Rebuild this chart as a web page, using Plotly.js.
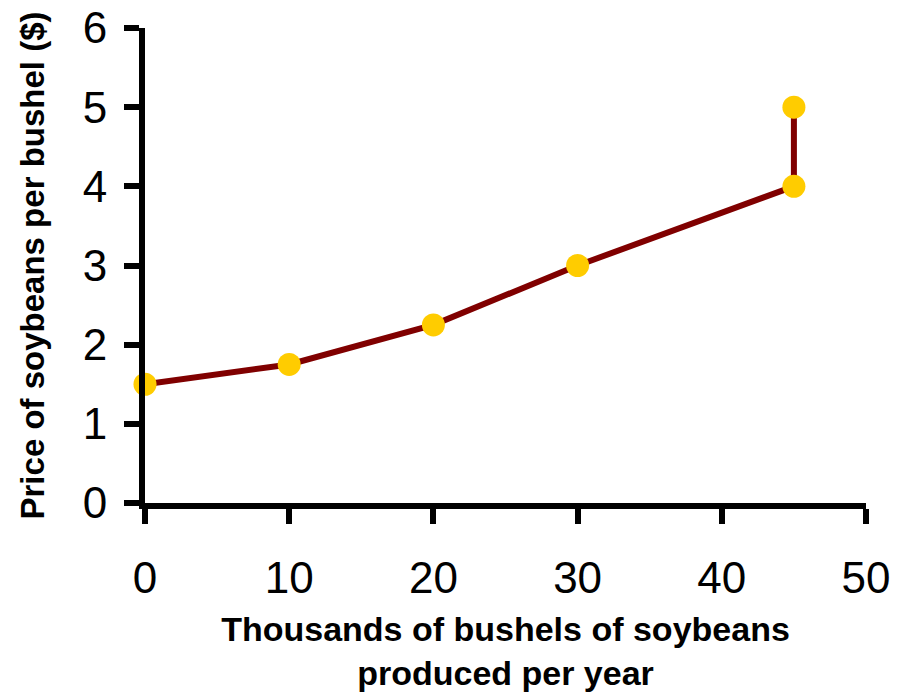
<!DOCTYPE html>
<html>
<head>
<meta charset="utf-8">
<script src="https://cdn.plot.ly/plotly-3.0.1.min.js"></script>
<style>html,body{margin:0;padding:0;background:#fff;}#chart{width:899px;height:693px;}</style>
</head>
<body>
<div id="chart"></div>
<script>
const quantity = [0, 10, 20, 30, 45, 45];
const price = [1.5, 1.75, 2.25, 3, 4, 5];
const xTicks = [0, 10, 20, 30, 40, 50];
const yTicks = [0, 1, 2, 3, 4, 5, 6];
const xTitle = "Thousands of bushels of soybeans<br>produced per year";
const yTitle = "Price of soybeans per bushel ($)";

const trace = {
  x: quantity, y: price, type: 'scatter', mode: 'lines+markers',
  line: {color: '#800000', width: 6},
  marker: {color: '#FFCC00', size: 23},
  cliponaxis: false, hoverinfo: 'none'
};
const axisCommon = {
  showline: true, linewidth: 6, linecolor: '#000', ticks: 'outside', ticklen: 15,
  tickwidth: 6, tickcolor: '#000', showgrid: false, zeroline: false,
  tickfont: {family: 'Liberation Sans, Arial, sans-serif', size: 44, color: '#000'},
  fixedrange: true
};
const layout = {
  width: 899, height: 693,
  margin: {l: 145, r: 33, t: 28, b: 190},
  paper_bgcolor: '#fff', plot_bgcolor: '#fff',
  showlegend: false,
  xaxis: Object.assign({}, axisCommon, {
    range: [0, 50], tickvals: xTicks, ticktext: xTicks.map(String),
    ticklabelstandoff: 16,
    title: {text: xTitle, font: {family: 'Liberation Sans, Arial, sans-serif', size: 34, color: '#000', weight: 'bold'}, standoff: 18}
  }),
  yaxis: Object.assign({}, axisCommon, {
    range: [0, 6], tickvals: yTicks, ticktext: yTicks.map(String),
    ticklabelstandoff: 8,
    title: {text: yTitle, font: {family: 'Liberation Sans, Arial, sans-serif', size: 33, color: '#000', weight: 'bold'}, standoff: 30}
  })
};
Plotly.newPlot('chart', [trace], layout, {displayModeBar: false, staticPlot: true});
</script>
</body>
</html>
